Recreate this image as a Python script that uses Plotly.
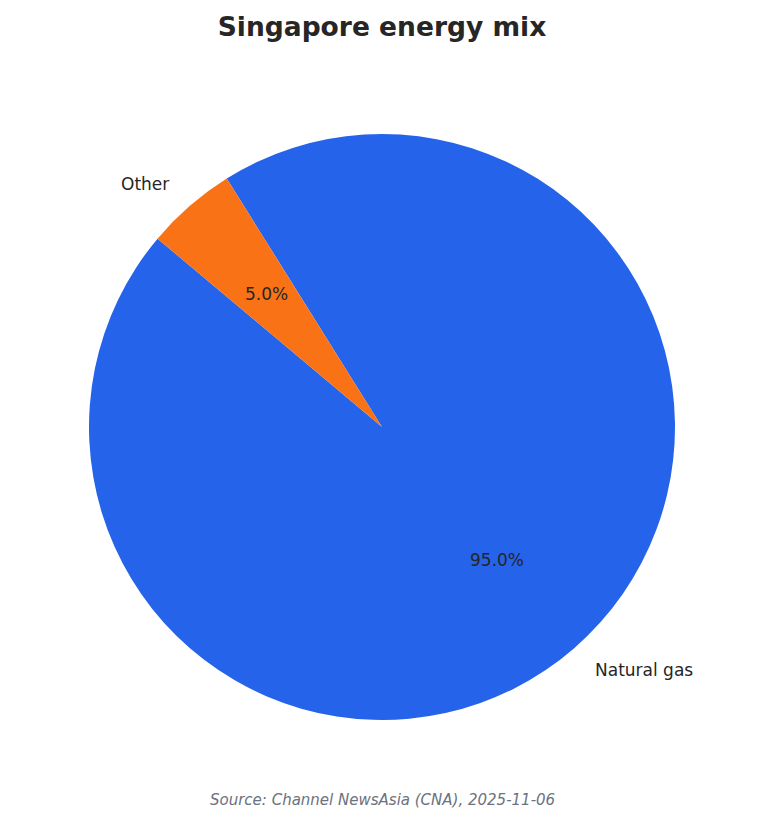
# Singapore energy mix pie chart

import math
import plotly.graph_objects as go

## Data
labels = ["Natural gas", "Other"]
values = [95.0, 5.0]
colors = ["#2563EB", "#F97316"]
title_text = "Singapore energy mix"
source_text = "Source: Channel NewsAsia (CNA), 2025-11-06"

## Geometry (pixels)
W, H = 764, 824
CX, CY, R = 382, 427, 293
START = 140  # degrees, counterclockwise from 3 o'clock

total = sum(values)
# plotly (counterclockwise): first slice occupies [rotation, rotation + v0] clockwise from top
rot = 90 - START - 360 * values[0] / total
while rot < -360:
    rot += 360

fig = go.Figure()
fig.add_trace(go.Pie(
    labels=labels, values=values, sort=False,
    direction="counterclockwise", rotation=rot,
    marker=dict(colors=colors, line=dict(width=0)),
    textinfo="none", hoverinfo="label+percent", showlegend=False,
    domain=dict(x=[(CX - R) / W, (CX + R) / W],
                y=[(H - CY - R) / H, (H - CY + R) / H]),
))

# Labels at 1.1 r, percentages at 0.6 r (computed from values)
angle = START
font = dict(family="DejaVu Sans", size=17, color="#262626")
for lab, val in zip(labels, values):
    span = 360 * val / total
    mid = math.radians(angle + span / 2)
    angle += span
    c, s = math.cos(mid), math.sin(mid)
    fig.add_annotation(
        x=(CX + 1.1 * R * c) / W, y=(H - CY + 1.1 * R * s) / H,
        xref="paper", yref="paper", text=lab, showarrow=False,
        xanchor="left" if c >= 0 else "right", yanchor="middle", font=font,
    )
    fig.add_annotation(
        x=(CX + 0.6 * R * c) / W, y=(H - CY + 0.6 * R * s) / H,
        xref="paper", yref="paper", text=f"{val / total * 100:.1f}%",
        showarrow=False, xanchor="center", yanchor="middle", font=font,
    )

fig.add_annotation(
    x=0.5, y=(H - 800) / H, xref="paper", yref="paper",
    text=f"<i>{source_text}</i>", showarrow=False,
    xanchor="center", yanchor="middle",
    font=dict(family="DejaVu Sans", size=15, color="#6B7280"),
)

fig.update_layout(
    width=W, height=H,
    margin=dict(l=0, r=0, t=0, b=0),
    paper_bgcolor="white", plot_bgcolor="white",
    title=dict(text=f"<b>{title_text}</b>", x=0.5, xanchor="center",
               y=(H - 27) / H, yanchor="middle",
               font=dict(family="DejaVu Sans", size=26.5, color="#262626")),
)

fig.write_html("out.html", config={"displayModeBar": False},
               post_script="document.body.style.margin='0';")
